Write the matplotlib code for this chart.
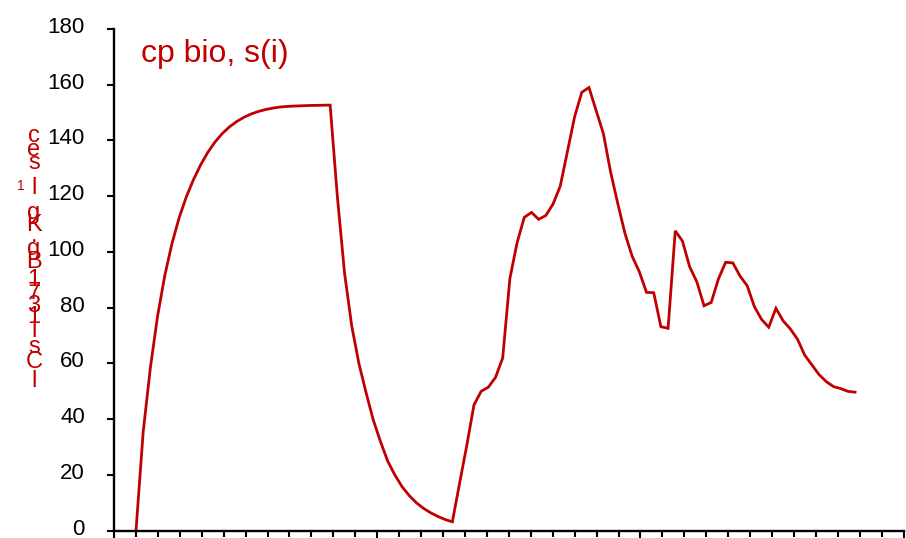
import numpy as np
import matplotlib
matplotlib.use("Agg")
import matplotlib.pyplot as plt
import matplotlib.transforms as mtransforms
from matplotlib.ticker import FixedLocator, NullFormatter

plt.rcParams['font.family'] = ['Liberation Sans', 'DejaVu Sans']

# Model build-up and wash-out phase, then the measured series
model_rise = [0, 35.5, 58.5, 77, 91.5, 103, 112.3, 119.8, 126, 131.3,
              135.8, 139.5, 142.5, 144.9, 146.8, 148.3, 149.5, 150.4, 151.1, 151.6,
              152, 152.2, 152.35, 152.45, 152.55, 152.6, 152.65, 152.7]
model_decay = [120, 92.5, 73.5, 60, 49.5, 39.7, 32, 25, 20, 15.8,
               12.6, 10, 8, 6.4, 5.1, 4, 3.2]
observed = [17, 30.5, 45.1, 50, 51.5, 55, 62, 90.5, 103.3, 112.4,
            114.2, 111.7, 113.1, 117.2, 123.6, 136.0, 148.5, 157.3, 159, 150.7,
            142.5, 128.8, 117.4, 106.7, 98.5, 92.9, 85.5, 85.4, 73.2, 72.6,
            107.6, 103.9, 94.7, 89.3, 80.7, 81.9, 90.3, 96.3, 96.1, 91.4,
            87.9, 80.4, 75.8, 73.0, 79.8, 75.3, 72.4, 68.7, 63.0, 59.5,
            56, 53.5, 51.7, 51, 50, 49.7]

values = np.array(model_rise + model_decay + observed, dtype=float)
steps = np.arange(len(values))

y_ticks = [0, 20, 40, 60, 80, 100, 120, 140, 160, 180]
title_text = "cp bio, s(i)"
label_glyphs = ["c", "e", "s", "l", "g", "K", ".", "g", "B", "1", "7", "3",
                "1", "l", "s", "C", "l"]

red = "#C00000"

fig = plt.figure(figsize=(9.06, 5.38), dpi=100)
W, H = 906, 538
ax = fig.add_axes([114 / W, 7.3 / H, 789.7 / W, 501.7 / H])

ax.plot(steps, values, color=red, lw=2.0, solid_joinstyle='miter')

# axis range: data step is ~7.19 px, axis spans 36 tick intervals
x_min, x_max = -3.06, 106.77
ax.set_xlim(x_min, x_max)
ax.set_ylim(0, 180)

ax.xaxis.set_major_locator(FixedLocator(np.linspace(x_min, x_max, 4)))
ax.xaxis.set_minor_locator(FixedLocator(np.linspace(x_min, x_max, 37)))
ax.xaxis.set_major_formatter(NullFormatter())
ax.tick_params(axis='x', which='major', direction='out', length=8, width=1.5, color='black')
ax.tick_params(axis='x', which='minor', direction='out', length=4.2, width=1.5, color='black')

ax.set_yticks(y_ticks)
ax.tick_params(axis='y', direction='out', length=5, width=1.5, pad=16,
               labelsize=16, colors='black')
lift = mtransforms.ScaledTranslation(0, 4 / 100, fig.dpi_scale_trans)
for lab in ax.get_yticklabels():
    lab.set_transform(lab.get_transform() + lift)

for side in ('top', 'right'):
    ax.spines[side].set_visible(False)
for side in ('left', 'bottom'):
    ax.spines[side].set_linewidth(1.7)
    ax.spines[side].set_color('black')

ax.patch.set_alpha(0)

fig.text(141 / W, 1 - 62 / H, title_text, color=red, fontsize=23,
         ha='left', va='baseline')

# stacked vertical axis caption
glyph_y = [136, 150, 163, 188, 213, 225, 236, 249, 262, 280, 293, 306, 317, 331, 347, 362, 381]
for ch, yy in zip(label_glyphs, glyph_y):
    fig.text(34 / W, 1 - yy / H, ch, color=red, fontsize=17,
             ha='center', va='center')
fig.text(21 / W, 1 - 186 / H, "1", color=red, fontsize=10,
         ha='center', va='center')

fig.savefig("out.png", dpi=100)
